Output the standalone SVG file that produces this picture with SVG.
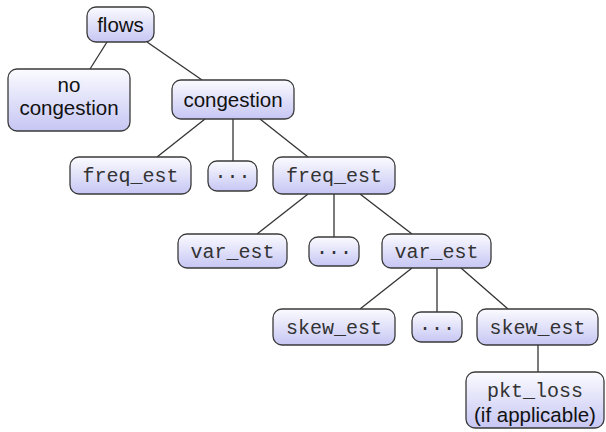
<svg xmlns="http://www.w3.org/2000/svg" width="606" height="432" viewBox="0 0 606 432">
<defs>
<linearGradient id="g" x1="0" y1="0" x2="0" y2="1">
<stop offset="0" stop-color="#fbfbff"/>
<stop offset="1" stop-color="#c6c6f4"/>
</linearGradient>
</defs>
<style>
.b{fill:url(#g);stroke:#3a3a3a;stroke-width:1.3}
.s{font-family:"Liberation Sans",Arial,sans-serif;font-size:20.5px;fill:#111;text-anchor:middle}
.m{font-family:"Liberation Mono","Courier New",monospace;font-size:20px;fill:#333;text-anchor:middle}
.c line{stroke:#333;stroke-width:1.3}
</style>
<rect width="606" height="432" fill="#fff"/>
<g class="c">
<line x1="107" y1="42" x2="90" y2="69"/>
<line x1="147" y1="42" x2="202" y2="80"/>
<line x1="205" y1="119" x2="157" y2="157"/>
<line x1="233" y1="119" x2="233" y2="161"/>
<line x1="260" y1="119" x2="308" y2="157"/>
<line x1="308" y1="194" x2="257" y2="234"/>
<line x1="334" y1="194" x2="334" y2="237"/>
<line x1="360" y1="194" x2="412" y2="234"/>
<line x1="412" y1="268" x2="360" y2="309"/>
<line x1="437" y1="268" x2="437" y2="312"/>
<line x1="461" y1="268" x2="508" y2="309"/>
<line x1="538" y1="345" x2="538" y2="372"/>
</g>
<g id="flows"><rect class="b" x="87" y="7" width="67" height="35" rx="9"/><text class="s" x="120.5" y="31.5">flows</text></g>
<g id="nocong"><rect class="b" x="8" y="69" width="122" height="62" rx="9"/><text class="s" x="69" y="92">no</text><text class="s" x="69" y="115">congestion</text></g>
<g id="cong"><rect class="b" x="172" y="80" width="122" height="39" rx="9"/><text class="s" x="233" y="107">congestion</text></g>
<g id="freq1"><rect class="b" x="70" y="157" width="121" height="37" rx="9"/><text class="m" x="130.5" y="182">freq_est</text></g>
<g id="dots1"><rect class="b" x="208" y="161" width="49" height="30" rx="9"/><text class="m" x="232.5" y="182">···</text></g>
<g id="freq2"><rect class="b" x="273" y="157" width="122" height="37" rx="9"/><text class="m" x="334" y="182">freq_est</text></g>
<g id="var1"><rect class="b" x="178" y="234" width="109" height="34" rx="9"/><text class="m" x="232.5" y="258">var_est</text></g>
<g id="dots2"><rect class="b" x="309" y="237" width="50" height="29" rx="9"/><text class="m" x="334" y="258">···</text></g>
<g id="var2"><rect class="b" x="382" y="234" width="109" height="34" rx="9"/><text class="m" x="436.5" y="258">var_est</text></g>
<g id="skew1"><rect class="b" x="273" y="309" width="122" height="36" rx="9"/><text class="m" x="334" y="334">skew_est</text></g>
<g id="dots3"><rect class="b" x="412" y="312" width="50" height="30" rx="9"/><text class="m" x="437" y="334">···</text></g>
<g id="skew2"><rect class="b" x="477" y="309" width="121" height="36" rx="9"/><text class="m" x="537.5" y="334">skew_est</text></g>
<g id="pkt"><rect class="b" x="466" y="372" width="138" height="56" rx="9"/><text class="m" x="535" y="397">pkt_loss</text><text class="s" x="535" y="422">(if applicable)</text></g>
</svg>
